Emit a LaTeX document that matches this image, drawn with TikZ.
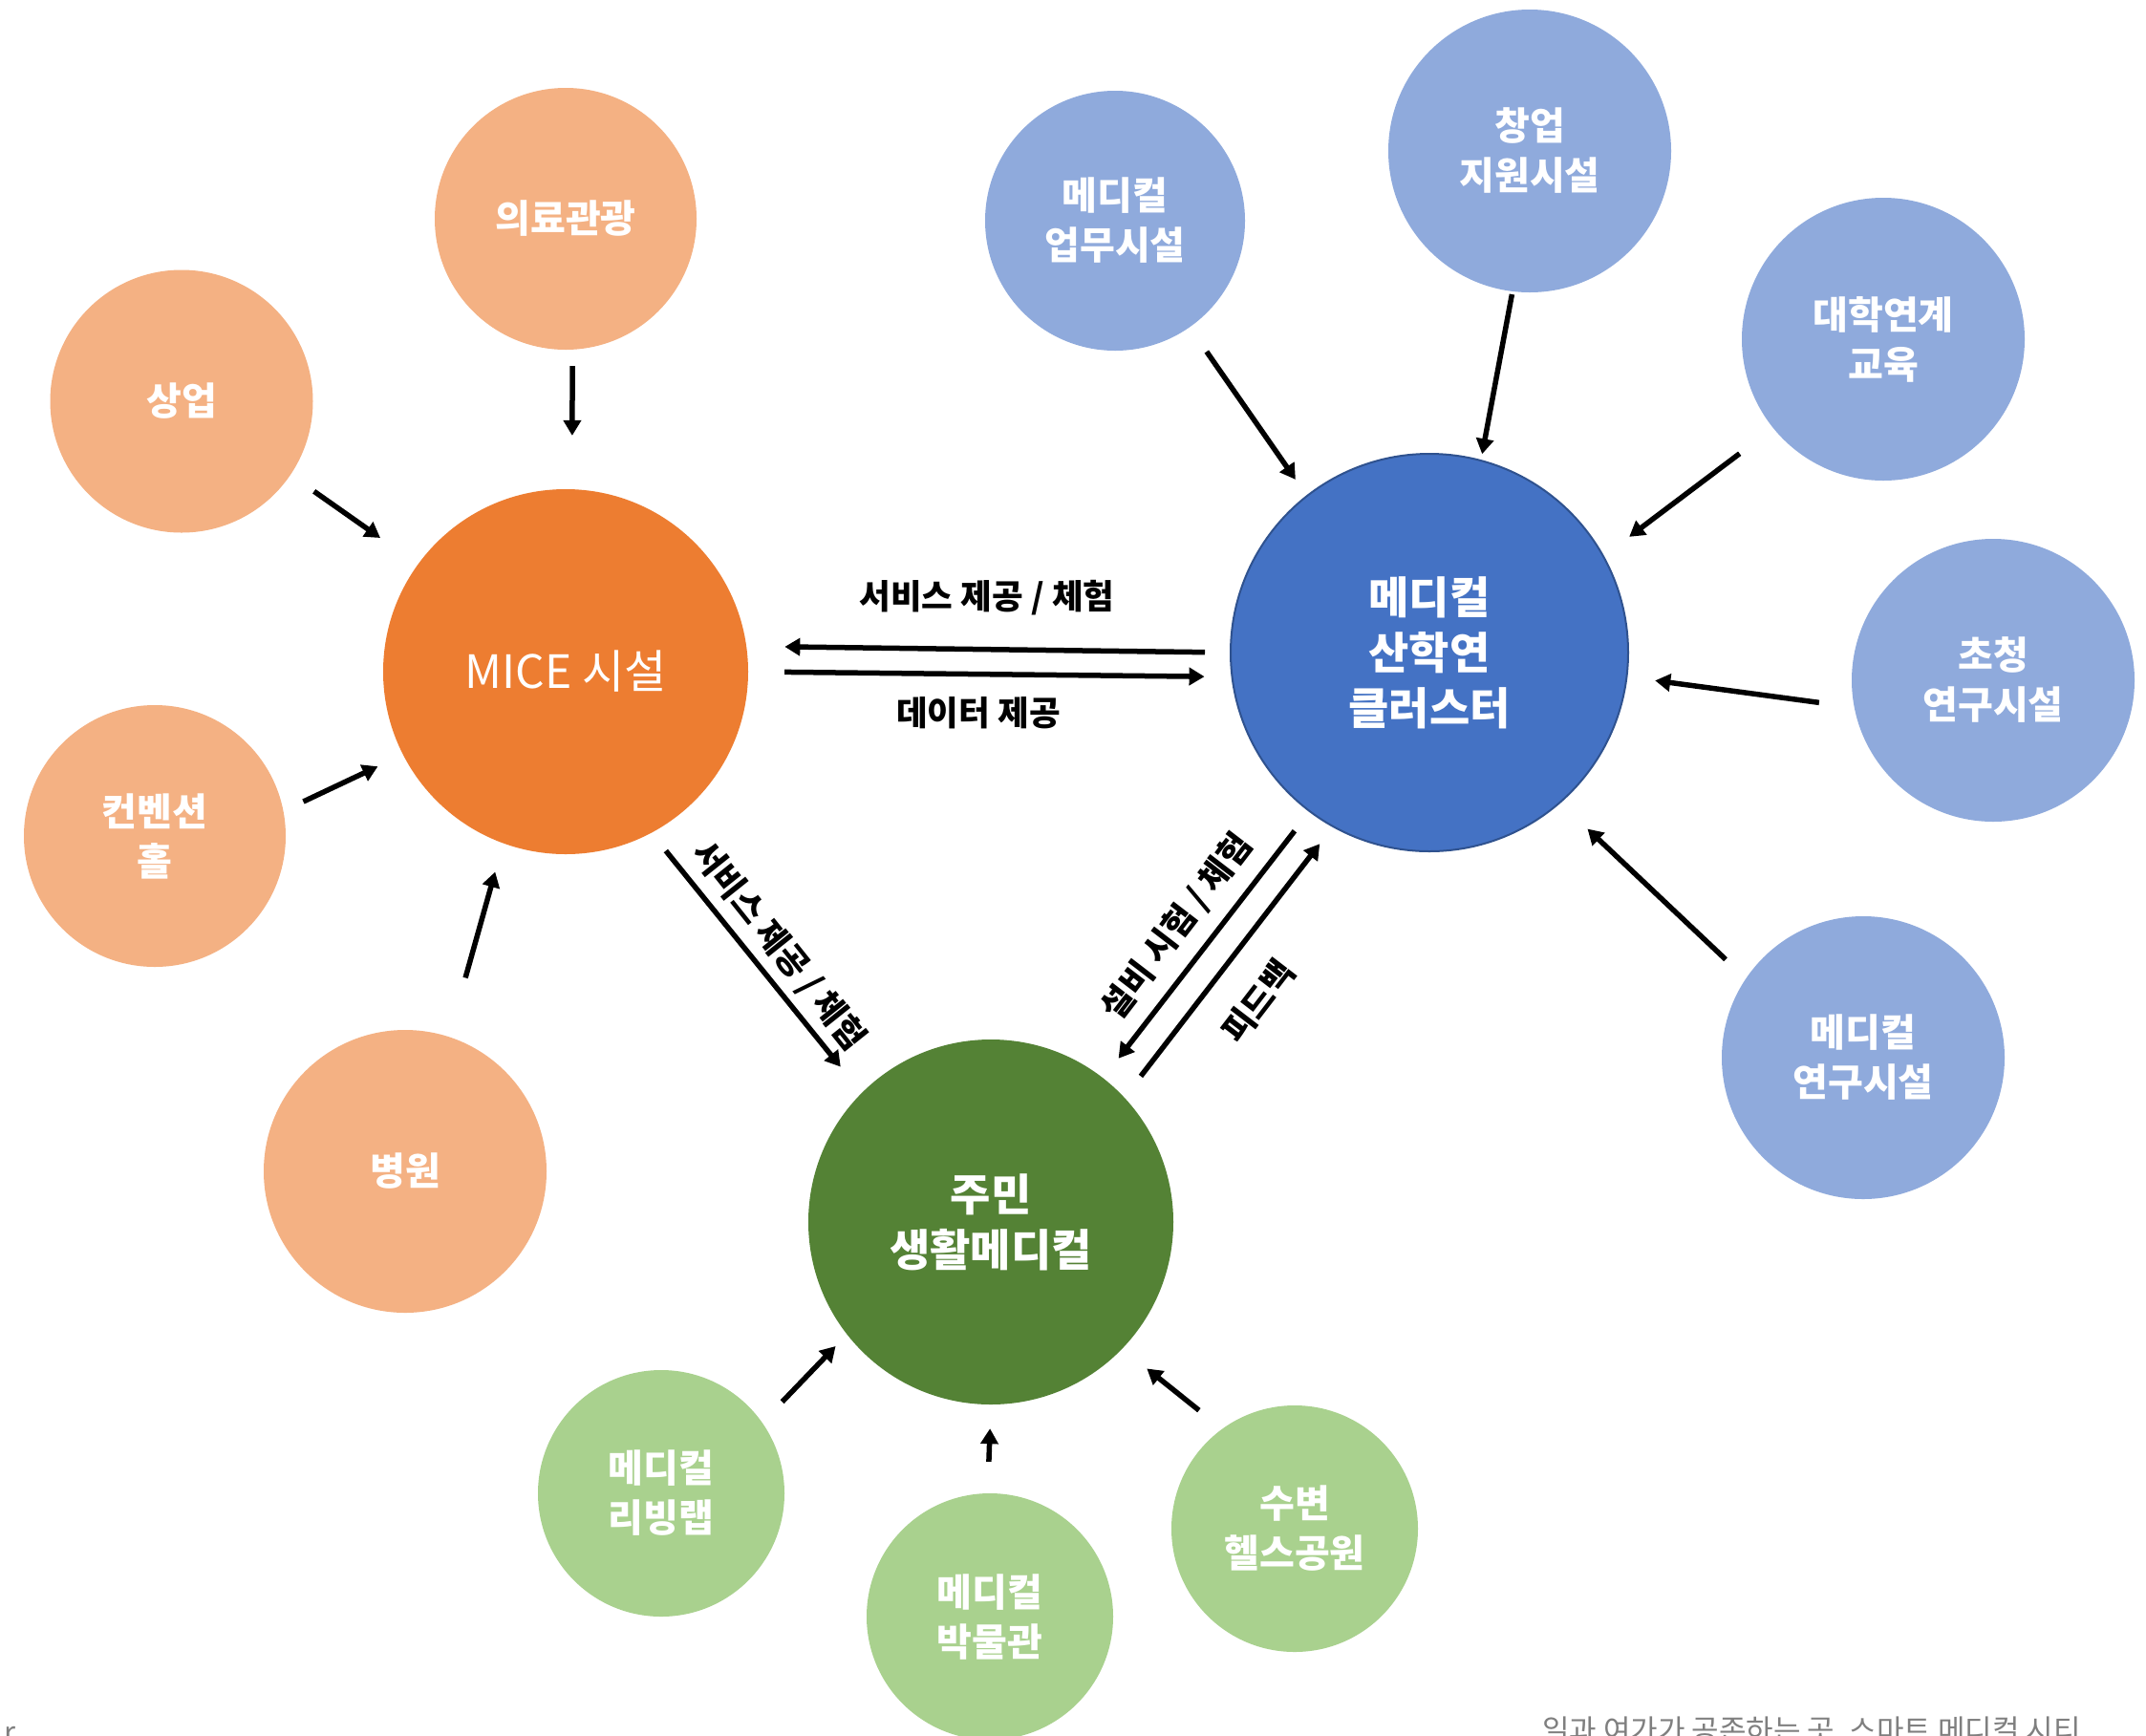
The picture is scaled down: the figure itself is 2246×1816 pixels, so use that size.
\documentclass[tikz,border=0pt]{standalone}
\usepackage{fontspec}
\setmainfont{Noto Sans CJK KR}
\usetikzlibrary{arrows.meta}
\definecolor{lorange}{HTML}{F4B183}
\definecolor{dorange}{HTML}{ED7D31}
\definecolor{lblue}{HTML}{8FAADC}
\definecolor{dblue}{HTML}{4472C4}
\definecolor{bblue}{HTML}{2F528F}
\definecolor{lgreen}{HTML}{A9D18E}
\definecolor{dgreen}{HTML}{548235}
\definecolor{capgrey}{HTML}{7F7F7F}
\begin{document}
\begin{tikzpicture}[x=1pt,y=-1pt,
  bubble/.style={circle, inner sep=0pt, text=white, align=center,
    font=\bfseries\fontsize{40}{52}\selectfont},
  hub/.style={circle, inner sep=0pt, text=white, align=center,
    font=\bfseries\fontsize{46}{58}\selectfont, minimum size=382pt},
  lbl/.style={inner sep=0pt, text=black, font=\bfseries\fontsize{35.5}{40}\selectfont},
  captext/.style={inner sep=0pt, text=capgrey, font=\fontsize{31}{34}\selectfont},
  arr/.style={line width=5.5pt, -{Triangle[length=16pt,width=18pt]}}]
\useasboundingbox (0,0) rectangle (2246,1816);
\fill[white] (0,0) rectangle (2246,1816);

% hubs
\node[hub, fill=dorange, font=\fontsize{48}{56}\selectfont] (mice) at (592,703) {MICE 시설};
\node[hub, fill=dblue, draw=bblue, line width=2pt, minimum size=416pt] (cl) at (1496,683) {메디컬\\산학연\\클러스터};
\node[hub, fill=dgreen] (res) at (1037,1279) {주민\\생활메디컬};

% orange satellites
\node[bubble, fill=lorange, minimum size=274pt] (tour) at (592,229) {의료관광};
\node[bubble, fill=lorange, minimum size=275pt] (com) at (190,420) {상업};
\node[bubble, fill=lorange, minimum size=274pt] (conv) at (162,875) {컨벤션\\홀};
\node[bubble, fill=lorange, minimum size=296pt] (hosp) at (424,1226) {병원};

% blue satellites
\node[bubble, fill=lblue, minimum size=272pt] (off) at (1167,231) {메디컬\\업무시설};
\node[bubble, fill=lblue, minimum size=296pt] (start) at (1601,158) {창업\\지원시설};
\node[bubble, fill=lblue, minimum size=296pt] (univ) at (1971,355) {대학연계\\교육};
\node[bubble, fill=lblue, minimum size=296pt] (inv) at (2086,712) {초청\\연구시설};
\node[bubble, fill=lblue, minimum size=296pt] (lab) at (1950,1107) {메디컬\\연구시설};

% green satellites
\node[bubble, fill=lgreen, minimum size=258pt] (liv) at (692,1563) {메디컬\\리빙랩};
\node[bubble, fill=lgreen, minimum size=258pt] (mus) at (1036,1692) {메디컬\\박물관};
\node[bubble, fill=lgreen, minimum size=258pt] (park) at (1355,1600) {수변\\헬스공원};

% arrows into MICE
\draw[arr, shorten <=17pt, shorten >=56pt] (tour.-87.4) -- (mice.88.4);
\draw[arr, shorten <=30pt, shorten >=48pt] (com.-34) -- (mice.144);
\draw[arr, shorten <=23pt, shorten >=29pt] (conv.11.2) -- (mice.207.6);
\draw[arr, shorten <=64pt, shorten >=31pt] (hosp.72.7) -- (mice.-110);

% MICE <-> cluster
\draw[arr, shorten <=26pt, shorten >=40pt] (cl.180) -- (mice.8.2);
\draw[arr, shorten <=38pt, shorten >=28pt] (mice.0) -- (cl.187.5);

% MICE -> residents, cluster <-> residents
\draw[arr, shorten <=24pt, shorten >=35pt] (mice.-62.2) -- (res.135.9);
\draw[arr, shorten <=25pt, shorten >=26pt] (cl.233) -- (res.52.5);
\draw[arr, shorten <=28pt, shorten >=22pt] (res.43) -- (cl.241.9);

% arrows into cluster
\draw[arr, shorten <=31pt, shorten >=20pt] (off.-55.3) -- (cl.128.3);
\draw[arr, shorten <=3pt, shorten >=6pt] (start.-97.6) -- (cl.75.2);
\draw[arr, shorten <=44pt, shorten >=33pt] (univ.219.5) -- (cl.29.7);
\draw[arr, shorten <=37pt, shorten >=29pt] (inv.191.2) -- (cl.-7.2);
\draw[arr, shorten <=29pt, shorten >=39pt] (lab.146) -- (cl.-49.4);

% arrows into residents
\draw[arr, shorten <=30pt, shorten >=17pt] (liv.35.8) -- (res.218.7);
\draw[arr, shorten <=33pt, shorten >=25pt] (mus.91) -- (res.-90);
\draw[arr, shorten <=31pt, shorten >=33pt] (park.126) -- (res.-44.3);

% connector labels
\node[lbl] (t1) at (1033,626) {서비스 제공 / 체험};
\node[lbl] (t2) at (1024,746) {데이터 제공};
\node[lbl, rotate=-51.4] (t3) at (815,990) {서비스 제공 / 체험};
\node[lbl, rotate=52.5] (t4) at (1232,970) {설비 시험 / 체험};
\node[lbl, rotate=52.5] (t5) at (1317,1048) {피드백};

% cut-off captions
\node[captext, anchor=base west] (c1) at (1614,1822) {일과 여가가 공존하는 곳, 스마트 메디컬 시티};
\node[captext, anchor=base west] (c2) at (4,1824) {r};
\end{tikzpicture}
\end{document}
